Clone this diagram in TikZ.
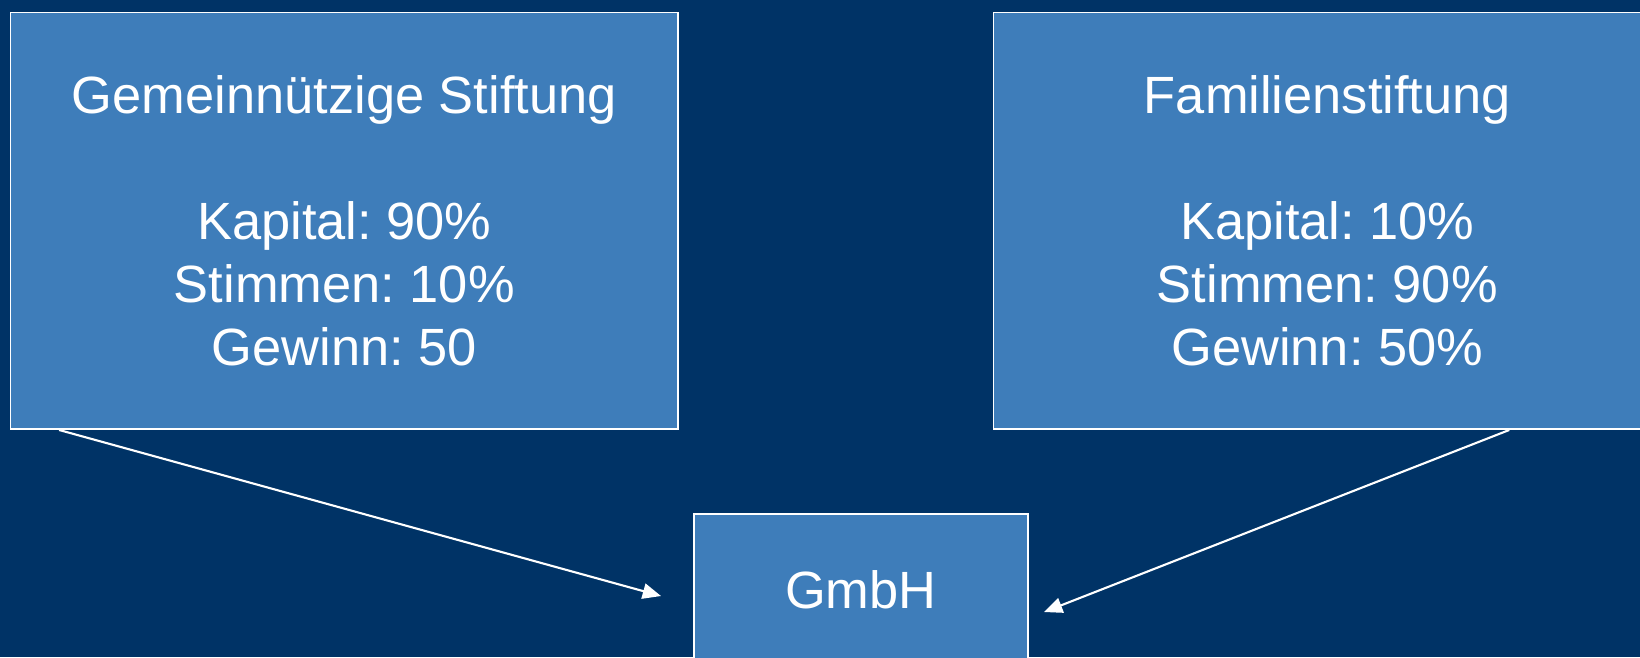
\documentclass[tikz,border=0pt]{standalone}
\usepackage{fontspec}
\setmainfont{Liberation Sans}
\usepackage{tikz}
\usetikzlibrary{positioning, arrows.meta, calc}
\definecolor{navy}{RGB}{0,51,102}
\definecolor{boxblue}{RGB}{62,125,186}
\frenchspacing

\begin{document}
\begin{tikzpicture}[
  x=0.01cm, y=-0.01cm,
  font=\fontsize{14.9}{17.9}\selectfont,
  org/.style={draw=white, line width=0.45pt, fill=boxblue, text=white,
    align=center, minimum width=6.675cm, minimum height=4.165cm, inner sep=0pt},
  arrow/.style={-{Triangle[length=5.2pt, width=4.4pt]}, white, line width=0.6pt},
]
  \useasboundingbox (0,0) rectangle (1640,657);
  \fill[navy] (0,0) rectangle (1640,657);
  \clip (0,0) rectangle (1640,657);

  \node[org] (gem) at (344.3,220.8)
    {Gemeinnützige Stiftung\\[17.9pt]Kapital: 90\%\\Stimmen: 10\%\\Gewinn: 50};
  \node[org] (fam) at (1327.3,220.8)
    {Familienstiftung\\[17.9pt]Kapital: 10\%\\Stimmen: 90\%\\Gewinn: 50\%};
  \node[org, minimum width=3.337cm, minimum height=1.52cm] (gmbh) at (860.8,590) {GmbH};

  \coordinate (gemtip) at (661,596);
  \coordinate (famtip) at (1044,612);
  \draw[arrow] ([xshift=0.495cm]gem.south west) -- (gemtip);
  \draw[arrow] ([xshift=5.164cm]fam.south west) -- (famtip);
\end{tikzpicture}
\end{document}
